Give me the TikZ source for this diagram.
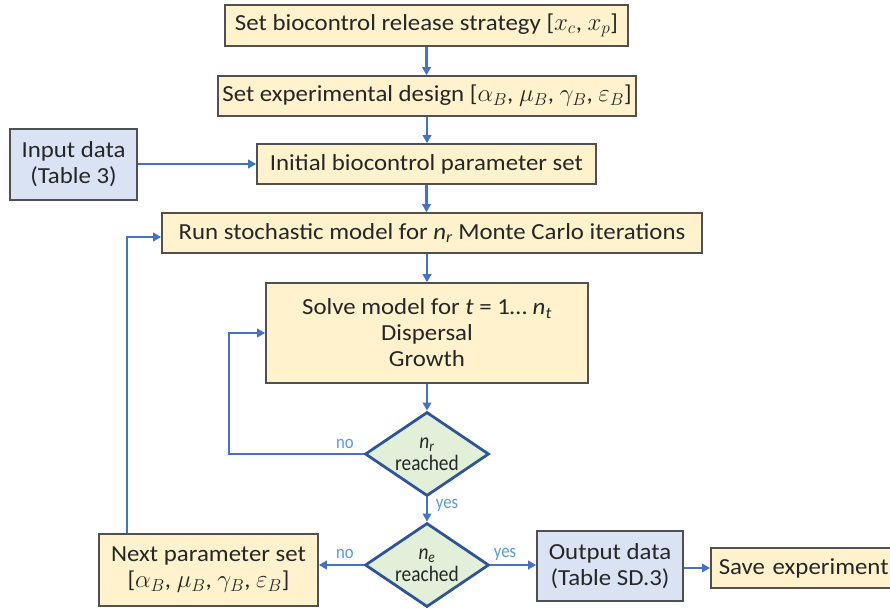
\documentclass[tikz,border=0pt]{standalone}
\usepackage{fontspec}
\setmainfont{Carlito}[FakeStretch=1.08]
\newfontfamily\condfont{Carlito}[FakeStretch=0.88]
\usetikzlibrary{arrows.meta,shapes.geometric,calc}
\definecolor{boxfill}{HTML}{FFF2CC}
\definecolor{boxline}{HTML}{505050}
\definecolor{infill}{HTML}{DAE3F3}
\definecolor{dfill}{HTML}{E2F0D9}
\definecolor{dline}{HTML}{2F5597}
\definecolor{conn}{HTML}{4472C4}
\definecolor{lab}{HTML}{5B9BD5}
\tikzset{
  stepbox/.style={draw=boxline, line width=1.6pt, fill=boxfill, inner sep=0pt, align=center,
    font=\fontsize{23}{26}\selectfont, text=black!85},
  databox/.style={stepbox, fill=infill},
  decide/.style={diamond, draw=dline, line width=2.8pt, fill=dfill, inner sep=0pt, align=center,
    minimum width=124pt, minimum height=84pt, aspect=1.48,
    font=\condfont\fontsize{22}{24}\selectfont, text=black!85},
  conn/.style={draw=conn, line width=2.8pt, -{Triangle[length=8pt,width=8.5pt]}},
  lab/.style={text=lab, font=\condfont\fontsize{19}{21}\selectfont, inner sep=1pt}
}
\begin{document}
\begin{tikzpicture}[x=1pt,y=-1pt]
\useasboundingbox (0,0) rectangle (890,608);
\clip (0,0) rectangle (890,608);
\node[stepbox, minimum width=403pt, minimum height=41pt] (b1) at (426.5,25.5) {Set biocontrol release strategy [$x_c$, $x_p$]};
\node[stepbox, minimum width=418pt, minimum height=40pt] (b2) at (427,96) {Set experimental design [$\alpha_B$, $\mu_B$, $\gamma_B$, $\varepsilon_B$]};
\node[stepbox, minimum width=339pt, minimum height=40pt] (b3) at (426.5,164) {Initial biocontrol parameter set};
\node[databox, minimum width=127pt, minimum height=71pt] (inp) at (73.5,164.5) {Input data\\(Table 3)};
\node[stepbox, minimum width=540pt, minimum height=40pt] (run) at (432,233) {Run stochastic model for \textit{n\textsubscript{r}} Monte Carlo iterations};
\node[stepbox, minimum width=322pt, minimum height=100pt] (solve) at (427,333) {Solve model for \textit{t} = 1\ldots\ \textit{n\textsubscript{t}}\\Dispersal\\Growth};
\node[decide] (d1) at (427,454) {\textit{n\textsubscript{r}}\\[-2pt]reached};
\node[decide] (d2) at (427,565) {\textit{n\textsubscript{e}}\\[-2pt]reached};
\node[stepbox, minimum width=219pt, minimum height=72pt] (next) at (208.5,570) {Next parameter set\\{}[$\alpha_B$, $\mu_B$, $\gamma_B$, $\varepsilon_B$]};
\node[databox, minimum width=146pt, minimum height=70pt] (out) at (610,566) {Output data\\(Table SD.3)};
\node[stepbox, minimum width=200pt, minimum height=40pt, anchor=west, text width=184pt, align=left] (save) at (710,568) {Save experiment};
\coordinate (lin) at (229,454);
\coordinate (lout) at (127,237);
% connectors
\draw[conn] (b1) -- (b1 |- b2.north);
\draw[conn] (b2) -- (b2 |- b3.north);
\draw[conn] (inp.east |- b3) -- (b3.west);
\draw[conn] (b3) -- (b3 |- run.north);
\draw[conn] (run.south -| solve) -- (solve.north);
\draw[conn] (solve) -- (d1.north);
\draw[conn] (d1.west) -- (lin) |- (solve.west);
\draw[conn] (d1.south) -- (d2.north);
\draw[conn] (d2.west) -- (d2.west -| next.east);
\draw[conn] (d2.east) -- (d2.east -| out.west);
\draw[conn] (out.east |- save.west) -- (save.west);
\draw[conn] (next.north -| lout) -- (lout) -- (lout -| run.west);
% labels
\node[lab] (l1) at (345,444) {no};
\node[lab] (l2) at (447,505) {yes};
\node[lab] (l3) at (345,554) {no};
\node[lab] (l4) at (505,554) {yes};
\end{tikzpicture}
\end{document}
